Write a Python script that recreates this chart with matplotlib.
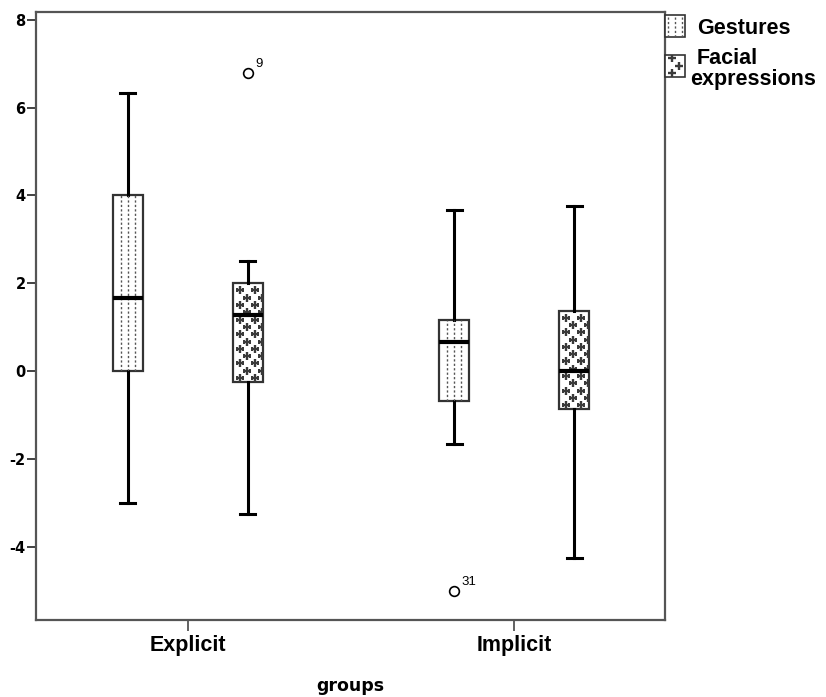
import numpy as np
import matplotlib
matplotlib.use("Agg")
import matplotlib.pyplot as plt
from matplotlib.lines import Line2D
from matplotlib.patches import Rectangle

# values (box statistics per group)
groups = ["Explicit", "Implicit"]
series = ["Gestures", "Facial\nexpressions"]

gest_whislo = [-3.0, -1.67]
gest_q1 = [0.0, -0.67]
gest_med = [1.67, 0.67]
gest_q3 = [4.0, 1.17]
gest_whishi = [6.33, 3.67]
gest_fliers = [[], [-5.0]]
gest_flier_ids = [[], ["31"]]

face_whislo = [-3.25, -4.25]
face_q1 = [-0.25, -0.87]
face_med = [1.27, 0.0]
face_q3 = [2.0, 1.37]
face_whishi = [2.5, 3.75]
face_fliers = [[6.8], []]
face_flier_ids = [["9"], []]

yticks = [-4, -2, 0, 2, 4, 6, 8]

W, H = 826, 697
fig = plt.figure(figsize=(W / 100, H / 100), dpi=100)
ax = fig.add_axes([36 / W, 1 - 620 / H, (665 - 36) / W, (620 - 12) / H])

xlim = (-0.466, 1.463)
ylim = (-5.67, 8.18)
ax.set_xlim(*xlim)
ax.set_ylim(*ylim)

# pixels per data unit, used for the fill patterns
sx = (665 - 36) / (xlim[1] - xlim[0])
sy = (620 - 12) / (ylim[1] - ylim[0])

off = 0.184
bw = 0.092


def stats(lo, q1, med, q3, hi, fl):
    return [dict(whislo=lo[i], q1=q1[i], med=med[i], q3=q3[i], whishi=hi[i], fliers=fl[i])
            for i in range(len(lo))]


gpos = np.arange(len(groups)) - off
fpos = np.arange(len(groups)) + off

common = dict(widths=bw, capwidths=bw / 2, patch_artist=True,
              boxprops=dict(facecolor="white", edgecolor="#333333", linewidth=1.6),
              whiskerprops=dict(color="black", linewidth=2.2),
              capprops=dict(color="black", linewidth=2.2),
              medianprops=dict(color="black", linewidth=3, zorder=5),
              flierprops=dict(marker="o", markerfacecolor="white", markeredgecolor="black",
                              markersize=7, markeredgewidth=1.2))

bg = ax.bxp(stats(gest_whislo, gest_q1, gest_med, gest_q3, gest_whishi, gest_fliers),
            positions=gpos, **common)
bf = ax.bxp(stats(face_whislo, face_q1, face_med, face_q3, face_whishi, face_fliers),
            positions=fpos, **common)


def dotted_fill(x0, x1, y0, y1, tr, px, clip, z=2.5, margin=3):
    xc = (x0 + x1) / 2
    step = 7.3 / px
    for k in range(-3, 4):
        x = xc + k * step
        if abs(x - xc) > (x1 - x0) / 2 - margin / px:
            continue
        ln = Line2D([x, x], [y0, y1], transform=tr, color="#555555", lw=1.0,
                    ls=(0, (1.6, 1.6)), zorder=z)
        ax.add_line(ln)
        ln.set_clip_path(clip)


def plus_fill(x0, x1, y0, y1, tr, px, py, clip, z=2.5):
    dx = 14.6 / px
    dy = 7.3 / py
    xs, ys = [], []
    row = 0
    y = y0 + 4 / py
    while y < y1:
        x = x0 + (7 if row % 2 == 0 else 14.3) / px
        while x < x1:
            xs.append(x)
            ys.append(y)
            x += dx
        y += dy
        row += 1
    sc = ax.scatter(xs, ys, marker="+", s=28, linewidths=1.7, color="#3a3a3a",
                    transform=tr, zorder=z)
    sc.set_clip_path(clip)


for b in bg["boxes"]:
    ext = b.get_path().get_extents()
    dotted_fill(ext.x0, ext.x1, ext.y0, ext.y1, ax.transData, sx, b)
for b in bf["boxes"]:
    ext = b.get_path().get_extents()
    plus_fill(ext.x0, ext.x1, ext.y0, ext.y1, ax.transData, sx, sy, b)

# outlier case labels
for pos, fl, ids in [(gpos, gest_fliers, gest_flier_ids), (fpos, face_fliers, face_flier_ids)]:
    for i in range(len(groups)):
        for v, t in zip(fl[i], ids[i]):
            ax.annotate(t, (pos[i], v), xytext=(5, 4), textcoords="offset points",
                        fontsize=9.5, family="Liberation Sans")

# axes styling
for s in ax.spines.values():
    s.set_color("#555555")
    s.set_linewidth(1.6)
ax.set_yticks(yticks)
ax.set_yticklabels([str(t) for t in yticks], fontsize=10.5, fontweight="bold",
                   family="DejaVu Sans")
ax.set_xticks(np.arange(len(groups)))
ax.set_xticklabels(groups, fontsize=15.5, fontweight="bold", family="Liberation Sans")
ax.tick_params(axis="y", length=6.5, width=1.3, color="#333333", pad=1)
ax.tick_params(axis="x", length=8, width=1.3, color="#555555", pad=3)
ax.set_xlabel("groups", fontsize=12.5, fontweight="bold", family="DejaVu Sans", labelpad=15)

# legend outside the plot on the right
leg_w = 20 / (665 - 36)
ax_h = 620 - 12
items = [(15, 37, "dots"), (55, 77, "plus")]
for (ytop, ybot, kind) in items:
    y0 = (620 - ybot) / ax_h
    y1 = (620 - ytop) / ax_h
    r = Rectangle((1.0, y0), leg_w, y1 - y0, transform=ax.transAxes, facecolor="white",
                  edgecolor="#333333", linewidth=1.2, clip_on=False, zorder=3)
    ax.add_patch(r)
    if kind == "dots":
        dotted_fill(1.0, 1.0 + leg_w, y0, y1, ax.transAxes, 665 - 36, r, z=4, margin=1.5)
    else:
        plus_fill(1.0, 1.0 + leg_w, y0, y1, ax.transAxes, 665 - 36, ax_h, r, z=4)

fig.text(697 / W, 1 - 29 / H, series[0], fontsize=15.5, fontweight="bold",
         family="Liberation Sans", ha="left", va="center")
line1, line2 = series[1].split("\n")
fig.text(697 / W, 1 - 58 / H, line1, fontsize=15.5, fontweight="bold",
         family="Liberation Sans", ha="left", va="center")
fig.text(690 / W, 1 - 80 / H, line2, fontsize=15.5, fontweight="bold",
         family="Liberation Sans", ha="left", va="center")

fig.savefig("out.png", dpi=100)
